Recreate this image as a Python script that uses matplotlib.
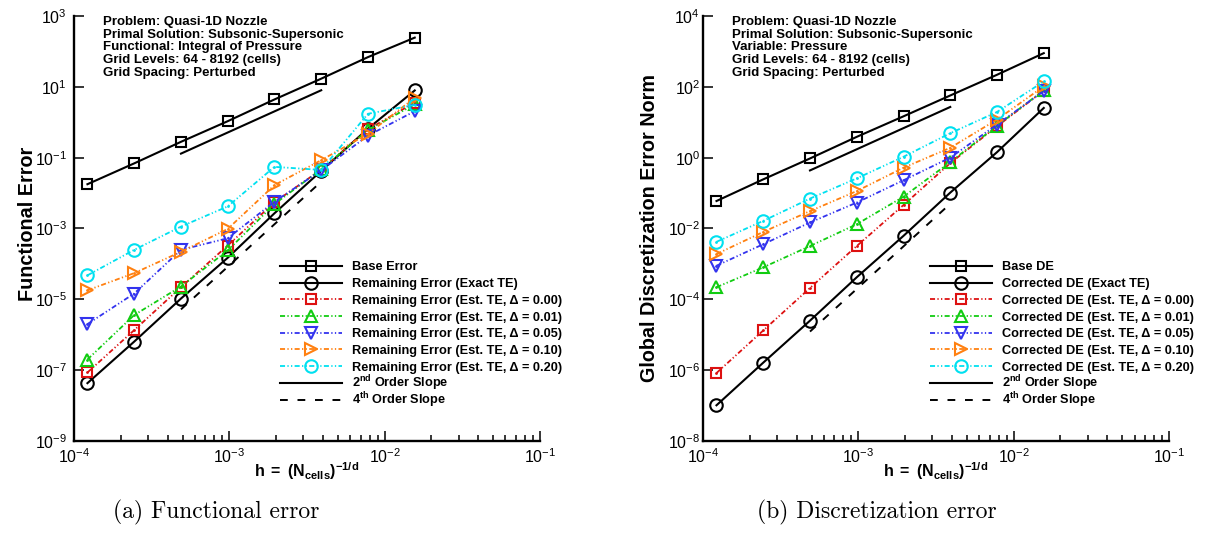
import numpy as np
import matplotlib
matplotlib.use("Agg")
import matplotlib.pyplot as plt
from matplotlib.ticker import LogLocator, NullLocator, NullFormatter
from matplotlib.font_manager import FontProperties

# grid spacing h = 1/N for N = 8192 ... 64 cells
h = [1/8192, 1/4096, 1/2048, 1/1024, 1/512, 1/256, 1/128, 1/64]

# (a) functional error
func_base = [0.0178, 0.069, 0.28, 1.07, 4.4, 17, 69, 245]
func_exact = [4.3e-8, 6.4e-7, 1.05e-5, 1.49e-4, 2.69e-3, 0.0423, 0.66, 7.9]
func_d000 = [8.6e-8, 1.35e-6, 2.2e-5, 3.3e-4, 5.5e-3, 0.046, 0.63, 3.6]
func_d001 = [2.0e-7, 3.6e-6, 2.3e-5, 2.4e-4, 4.9e-3, 0.047, 0.60, 3.2]
func_d005 = [2.0e-6, 1.46e-5, 2.5e-4, 5.3e-4, 5.7e-3, 0.044, 0.42, 2.05]
func_d010 = [1.8e-5, 5.5e-5, 2.2e-4, 9.7e-4, 0.0168, 0.085, 0.47, 4.9]
func_d020 = [4.75e-5, 2.5e-4, 1.13e-3, 4.2e-3, 0.055, 0.045, 1.73, 3.1]

# (b) discretization error
de_base = [0.0597, 0.244, 0.95, 3.87, 14.7, 57, 219, 893]
de_exact = [1.02e-7, 1.63e-6, 2.5e-5, 4.2e-4, 6.2e-3, 0.103, 1.43, 25.3]
de_d000 = [8.3e-7, 1.32e-5, 2.1e-4, 3.2e-3, 0.046, 0.70, 7.7, 78]
de_d001 = [2.2e-4, 8.0e-4, 3.2e-3, 0.0132, 0.079, 0.75, 8.0, 80]
de_d005 = [8.9e-4, 3.6e-3, 0.0148, 0.054, 0.23, 1.0, 8.6, 76]
de_d010 = [1.9e-3, 8.0e-3, 0.031, 0.114, 0.52, 1.9, 11.9, 103]
de_d020 = [4.2e-3, 0.0164, 0.070, 0.26, 1.06, 4.9, 19.5, 142]

# reference slope lines (two end points each)
slope_h = [1/2048, 1/256]
func_slope2 = [0.13, 8.0]
func_slope4 = [5.2e-6, 0.021]
de_slope2 = [0.436, 27.0]
de_slope4 = [1.23e-5, 0.05]

deltas = ["0.00", "0.01", "0.05", "0.10", "0.20"]

plt.rcParams['font.family'] = ['Liberation Sans', 'DejaVu Sans']
plt.rcParams['mathtext.fontset'] = 'custom'
plt.rcParams['mathtext.rm'] = 'Liberation Sans'
plt.rcParams['mathtext.it'] = 'Liberation Sans:italic'
plt.rcParams['mathtext.bf'] = 'Liberation Sans:bold'

colors = ['#dd1111', '#11cc11', '#3333ee', '#ff8010', '#00e0f0']
markers = ['s', '^', 'v', '>', 'o']
msizes = [7, 8, 8, 8, 9]
dashdotdot = (0, (2.8, 1.3, 0.7, 1.3, 0.7, 1.3))

leg_fs = 9.2              # legend font size (pt)
leg_fs_px = leg_fs * 100 / 72
row_pitch = 16.7          # legend row pitch (px)
first_row = 266.0         # legend first row, px from figure top
ax_top, ax_h = 16.0, 425.0

fig = plt.figure(figsize=(12.09, 5.33), dpi=100)
renderer = fig.canvas.get_renderer()
legprop = FontProperties(family=['Liberation Sans', 'DejaVu Sans'], size=leg_fs, weight='bold')


def text_box(s):
    # height and descent of one legend label, in px
    t = fig.text(0, 0, s, fontproperties=legprop)
    hgt = t.get_window_extent(renderer).height
    t.remove()
    _, _, d = renderer.get_text_width_height_descent(s if '$' in s else 'lp', legprop, ismath='$' in s)
    return hgt, d


def add_legend(ax, handles, labels, row0, leg_x):
    hgt, d = text_box(labels[-1])
    top_px = row0 - (hgt - d - 0.35 * leg_fs_px)
    top = 1 - (top_px - ax_top) / ax_h
    return ax.legend(handles, labels, loc='upper left', bbox_to_anchor=(leg_x, top),
                     frameon=False, prop=legprop, handlelength=4.85,
                     handletextpad=0.8, labelspacing=(row_pitch - hgt) / leg_fs_px,
                     borderpad=0, borderaxespad=0)


def draw_panel(ax, base, exact, est, s2, s4, ylo, yhi, name, ylabel, info, ylab_x, ylab_y, ypad, leg_x):
    prefix = 'Remaining Error' if name == 'Error' else 'Corrected DE'
    lines = []
    lines += ax.plot(h, base, '-s', color='k', lw=1.5, ms=7, mfc='none', mew=1.5, label='Base ' + name)
    lines += ax.plot(h, exact, '-o', color='k', lw=1.5, ms=9, mfc='none', mew=1.5,
                     label=prefix + ' (Exact TE)')
    for i in range(len(est)):
        lines += ax.plot(h, est[i], linestyle=dashdotdot, marker=markers[i], color=colors[i], lw=1.3,
                         ms=msizes[i], mfc='none', mew=1.5,
                         label=prefix + ' (Est. TE, \u0394 = %s)' % deltas[i])
        ax.plot(h, est[i], linestyle='none', marker='.', color=colors[i], ms=2)  # centre dot
    slopes = []
    slopes += ax.plot(slope_h, s2, '-', color='k', lw=1.5, label=r'$\mathbf{2^{nd}}$ Order Slope')
    slopes += ax.plot(slope_h, s4, color='k', lw=1.4, linestyle=(0, (4, 5)),
                      label=r'$\mathbf{4^{th}}$ Order Slope')

    ax.set_xscale('log')
    ax.set_yscale('log')
    ax.set_xlim(1e-4, 1e-1)
    ax.set_ylim(ylo, yhi)
    ax.xaxis.set_major_locator(LogLocator(base=10))
    ax.xaxis.set_minor_locator(LogLocator(base=10, subs=np.arange(2, 10)))
    ax.xaxis.set_minor_formatter(NullFormatter())
    ax.set_yticks([10.0**k for k in range(int(np.log10(ylo)), int(np.log10(yhi)) + 1, 2)])
    ax.yaxis.set_minor_locator(NullLocator())

    for s in ['top', 'right']:
        ax.spines[s].set_visible(False)
    for s in ['left', 'bottom']:
        ax.spines[s].set_linewidth(1.7)
    ax.tick_params(which='both', direction='in', top=False, right=False, width=1.1, labelsize=11.5)
    ax.tick_params(which='major', length=7.5)
    ax.tick_params(which='minor', length=4)
    ax.tick_params(axis='y', pad=ypad)
    ax.tick_params(axis='x', pad=4.5)

    ax.set_xlabel(r'$\mathbf{h\ =\ (N_{cells})^{-1/d}}$', fontsize=11.5)
    ax.xaxis.set_label_coords(0.5, -0.045)
    ax.set_ylabel(ylabel, fontsize=14.2, fontweight='bold')
    ax.yaxis.set_label_coords(ylab_x, ylab_y)

    ax.text(0.062, 1.0, info, transform=ax.transAxes, va='top', ha='left',
            fontsize=9.5, fontweight='bold', linespacing=1.08)

    # marker series and slope lines in two stacked legends so rows stay evenly spaced
    leg1 = add_legend(ax, lines, [l.get_label() for l in lines], first_row, leg_x)
    ax.add_artist(leg1)
    add_legend(ax, slopes, [l.get_label() for l in slopes], first_row + 7 * row_pitch, leg_x)


ax1 = fig.add_axes([0.0612, 0.1726, 0.3854, 0.7974])
ax2 = fig.add_axes([0.5815, 0.1726, 0.3854, 0.7974])

draw_panel(ax1, func_base, func_exact, [func_d000, func_d001, func_d005, func_d010, func_d020],
           func_slope2, func_slope4, 1e-9, 1e3, 'Error', 'Functional Error',
           "Problem: Quasi-1D Nozzle\nPrimal Solution: Subsonic-Supersonic\n"
           "Functional: Integral of Pressure\nGrid Levels: 64 - 8192 (cells)\nGrid Spacing: Perturbed",
           -0.079, 0.51, 5, 0.442)
draw_panel(ax2, de_base, de_exact, [de_d000, de_d001, de_d005, de_d010, de_d020],
           de_slope2, de_slope4, 1e-8, 1e4, 'DE', 'Global Discretization Error Norm',
           "Problem: Quasi-1D Nozzle\nPrimal Solution: Subsonic-Supersonic\n"
           "Variable: Pressure\nGrid Levels: 64 - 8192 (cells)\nGrid Spacing: Perturbed",
           -0.094, 0.5, 2, 0.487)

fig.text(216/1209, 1 - 512/533, '(a) Functional error', family='cmr10', fontsize=17, ha='center', va='center')
fig.text(877/1209, 1 - 512/533, '(b) Discretization error', family='cmr10', fontsize=17, ha='center', va='center')

fig.savefig('out.png', dpi=100)
